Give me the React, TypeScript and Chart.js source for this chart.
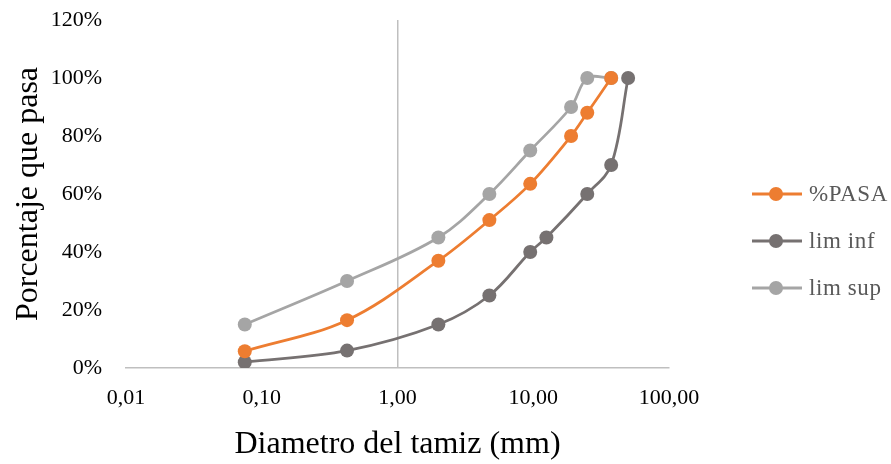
import { useEffect, useRef } from "react";
import { Chart, registerables } from "chart.js";

Chart.register(...registerables);

const seriesNames = ["%PASA", "lim inf", "lim sup"];
const seriesColors = ["#ED7D31", "#767171", "#A5A5A5"];

const pasaDiam = [0.075, 0.425, 2, 4.75, 9.5, 19, 25, 37.5];
const pasaPct = [5.8, 16.5, 37, 51, 63.5, 80, 88, 100];

const infDiam = [0.075, 0.425, 2, 4.75, 9.5, 12.5, 25, 37.5, 50];
const infPct = [2, 6, 15, 25, 40, 45, 60, 70, 100];

const supDiam = [0.075, 0.425, 2, 4.75, 9.5, 19, 25, 37.5];
const supPct = [15, 30, 45, 60, 75, 90, 100, 100];

const xTickValues = [0.01, 0.1, 1, 10, 100];
const yTickValues = [0, 20, 40, 60, 80, 100, 120];

const xTitle = "Diametro del tamiz (mm)";
const yTitle = "Porcentaje que pasa";

const FONT = "'Liberation Serif', 'Times New Roman', serif";

const legendPlugin = {
  id: "customLegend",
  afterDraw(chart: any) {
    const ctx = chart.ctx;
    const ca = chart.chartArea;
    chart.data.datasets.forEach((ds: any, i: number) => {
      const y = ca.top + 174 + i * 47;
      const x0 = ca.right + 83;
      ctx.save();
      ctx.strokeStyle = ds.borderColor;
      ctx.lineWidth = 3;
      ctx.beginPath();
      ctx.moveTo(x0, y);
      ctx.lineTo(x0 + 50, y);
      ctx.stroke();
      ctx.fillStyle = ds.borderColor;
      ctx.beginPath();
      ctx.arc(x0 + 24, y, 7, 0, Math.PI * 2);
      ctx.fill();
      ctx.fillStyle = "#595959";
      ctx.font = `23px ${FONT}`;
      try {
        (ctx as any).letterSpacing = "0.6px";
      } catch (e) {}
      ctx.textBaseline = "middle";
      ctx.textAlign = "left";
      ctx.fillText(ds.label, x0 + 57, y + 1);
      ctx.restore();
    });
  },
};

function toPoints(xs: number[], ys: number[]) {
  return xs.map((x, i) => ({ x, y: ys[i] }));
}

export default function App() {
  const ref = useRef<HTMLCanvasElement | null>(null);

  useEffect(() => {
    document.body.style.margin = "0";
    const canvas = ref.current;
    if (!canvas) return;
    const mk = (i: number, xs: number[], ys: number[]) => ({
      label: seriesNames[i],
      data: toPoints(xs, ys),
      borderColor: seriesColors[i],
      backgroundColor: seriesColors[i],
      pointBackgroundColor: seriesColors[i],
      pointBorderColor: seriesColors[i],
      borderWidth: 2.75,
      pointRadius: 7,
      pointBorderWidth: 0,
      tension: 0.35,
      fill: false,
    });
    const chart = new Chart(canvas, {
      type: "line",
      data: {
        datasets: [
          mk(0, pasaDiam, pasaPct),
          mk(1, infDiam, infPct),
          mk(2, supDiam, supPct),
        ],
      },
      plugins: [legendPlugin],
      options: {
        responsive: false,
        animation: false,
        layout: { padding: { left: 0, top: 20, right: 222, bottom: 0 } },
        plugins: {
          legend: { display: false },
          tooltip: { enabled: false },
        },
        scales: {
          x: {
            type: "logarithmic",
            min: 0.01,
            max: 100,
            afterBuildTicks: (axis: any) => {
              axis.ticks = xTickValues.map((v) => ({ value: v }));
            },
            afterFit: (axis: any) => {
              axis.height = 96;
            },
            grid: {
              drawTicks: false,
              lineWidth: 1.5,
              color: (c: any) =>
                c.tick && Math.abs(c.tick.value - 1) < 1e-9 ? "#BFBFBF" : "rgba(0,0,0,0)",
            },
            border: { display: true, color: "#BFBFBF", width: 1.5 },
            ticks: {
              autoSkip: false,
              maxRotation: 0,
              padding: 17,
              color: "#000",
              font: { family: FONT, size: 22 },
              callback: (v: any) => Number(v).toFixed(2).replace(".", ","),
            },
            title: {
              display: true,
              text: xTitle,
              color: "#000",
              font: { family: FONT, size: 32 },
              padding: { top: 21, bottom: 0 },
            },
          },
          y: {
            type: "linear",
            min: 0,
            max: 120,
            afterBuildTicks: (axis: any) => {
              axis.ticks = yTickValues.map((v) => ({ value: v }));
            },
            afterFit: (axis: any) => {
              axis.width = 126;
              axis.paddingTop = 0;
              axis.paddingBottom = 0;
            },
            grid: { display: false, drawTicks: false },
            border: { display: false },
            ticks: {
              padding: 24,
              color: "#000",
              font: { family: FONT, size: 22 },
              callback: (v: any) => `${v}%`,
            },
            title: {
              display: true,
              text: yTitle,
              color: "#000",
              font: { family: FONT, size: 32 },
              padding: { top: 9, bottom: 0 },
            },
          },
        },
      },
    });
    return () => chart.destroy();
  }, []);

  return (
    <div style={{ width: 891, height: 464 }}>
      <canvas ref={ref} width={891} height={464} style={{ display: "block" }} />
    </div>
  );
}
